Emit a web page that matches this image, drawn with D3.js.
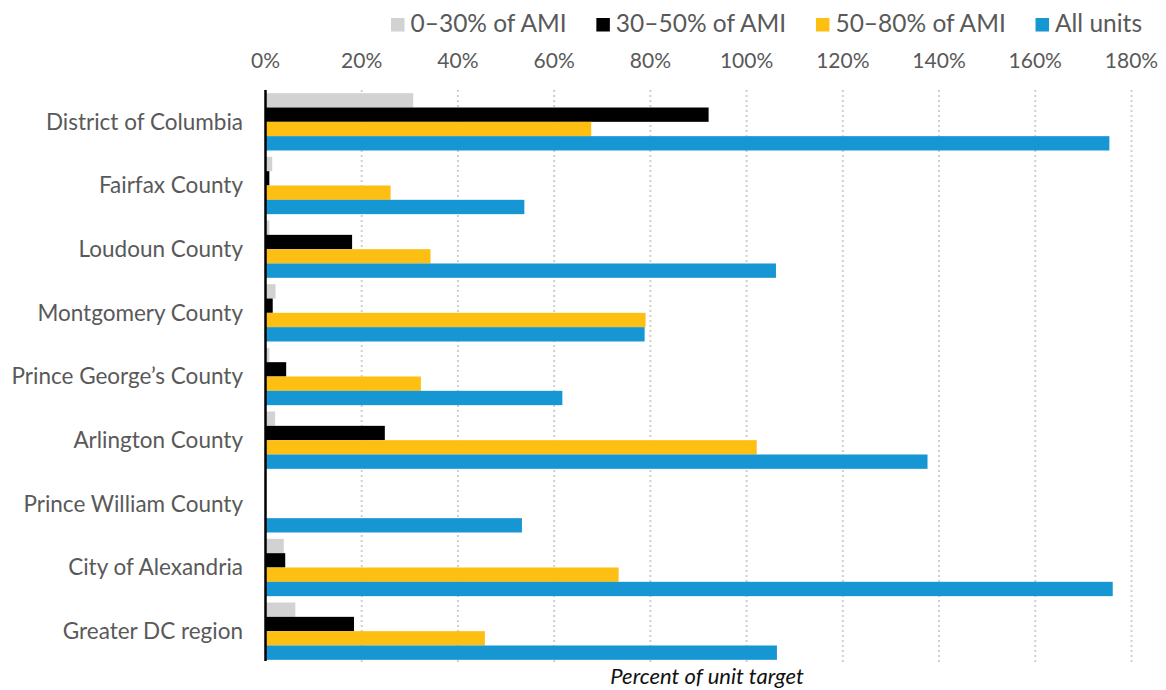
<!DOCTYPE html>
<html lang="en">
<head>
<meta charset="UTF-8">
<title>Percent of unit target</title>
<script src="https://d3js.org/d3.v7.min.js"></script>
<style>
    body { margin: 0; background: #fff; font-family: Lato, "Open Sans", sans-serif; }
    .tick-label { font-size: 21px; fill: #595959; }
    .cat-label { font-size: 22.5px; fill: #595959; }
    .legend-label { font-size: 24.5px; fill: #595959; }
    .axis-title { font-size: 22px; font-style: italic; fill: #111; }
</style>
</head>
<body>
<div id="chart"></div>
<script>
    const categories = ["District of Columbia", "Fairfax County", "Loudoun County", "Montgomery County",
        "Prince George\u2019s County", "Arlington County", "Prince William County", "City of Alexandria", "Greater DC region"];
    const seriesNames = ["0\u201330% of AMI", "30\u201350% of AMI", "50\u201380% of AMI", "All units"];
    const seriesColors = ["#d2d2d2", "#000000", "#fdbf11", "#1696d2"];

    // percent of unit target
    const ami0to30 = [30.7, 1.4, 0.8, 2.1, 0.8, 2.0, 0, 3.8, 6.2];
    const ami30to50 = [92.1, 0.8, 18.0, 1.5, 4.3, 24.8, 0, 4.1, 18.4];
    const ami50to80 = [67.7, 26.0, 34.3, 79.0, 32.3, 102.1, 0, 73.4, 45.6];
    const allUnits = [175.4, 53.8, 106.1, 78.8, 61.7, 137.6, 53.3, 176.1, 106.3];
    const tickValues = [0, 20, 40, 60, 80, 100, 120, 140, 160, 180];

    const seriesValues = [ami0to30, ami30to50, ami50to80, allUnits];

    const width = 1166, height = 690;
    const margin = { left: 265.5, right: 1131.5, top: 90, bottom: 663 };

    const svg = d3.select("#chart").append("svg")
        .attr("width", width)
        .attr("height", height);

    const x = d3.scaleLinear().domain([0, 180]).range([margin.left, margin.right]);
    const y = d3.scaleBand().domain(categories).range([margin.top, margin.bottom]).paddingInner(0.1).paddingOuter(0.05);
    const ySub = d3.scaleBand().domain(d3.range(seriesNames.length)).range([0, y.bandwidth()]);

    // dotted gridlines
    svg.append("g")
        .selectAll("line")
        .data(tickValues.slice(1))
        .enter().append("line")
        .attr("x1", d => x(d)).attr("x2", d => x(d))
        .attr("y1", margin.top).attr("y2", margin.bottom)
        .attr("stroke", "#cfcfcf")
        .attr("stroke-width", 2)
        .attr("stroke-dasharray", "2,3");

    // top axis labels
    svg.append("g")
        .selectAll("text")
        .data(tickValues)
        .enter().append("text")
        .attr("class", "tick-label")
        .attr("x", d => x(d))
        .attr("y", 67.5)
        .attr("text-anchor", "middle")
        .text(d => d + "%");

    // bars
    const groups = svg.append("g")
        .selectAll("g")
        .data(categories)
        .enter().append("g")
        .attr("transform", c => `translate(0,${y(c)})`);

    groups.selectAll("rect")
        .data((c, i) => seriesValues.map((vals, s) => ({ s: s, v: vals[i] })))
        .enter().append("rect")
        .attr("x", x(0))
        .attr("y", d => ySub(d.s))
        .attr("width", d => x(d.v) - x(0))
        .attr("height", ySub.bandwidth())
        .attr("fill", d => seriesColors[d.s]);

    // category labels
    svg.append("g")
        .selectAll("text")
        .data(categories)
        .enter().append("text")
        .attr("class", "cat-label")
        .attr("x", 243)
        .attr("y", c => y(c) + y.bandwidth() / 2)
        .attr("dy", "0.35em")
        .attr("text-anchor", "end")
        .text(c => c);

    // vertical axis line
    svg.append("line")
        .attr("x1", x(0)).attr("x2", x(0))
        .attr("y1", margin.top).attr("y2", margin.bottom - 2)
        .attr("stroke", "#000")
        .attr("stroke-width", 2.5);

    // axis title
    svg.append("text")
        .attr("class", "axis-title")
        .attr("x", 707)
        .attr("y", 684)
        .attr("text-anchor", "middle")
        .text("Percent of unit target");

    // legend: spread between 391 and 1142
    const legend = svg.append("g");
    const sq = 13.5, sqGap = 6;
    const items = seriesNames.map((name, i) => {
        const g = legend.append("g");
        g.append("rect")
            .attr("y", 18)
            .attr("width", sq).attr("height", sq)
            .attr("fill", seriesColors[i]);
        const t = g.append("text")
            .attr("class", "legend-label")
            .attr("x", sq + sqGap)
            .attr("y", 31.5)
            .text(name);
        return { g: g, w: sq + sqGap + t.node().getComputedTextLength() };
    });
    const legendStart = 391, legendEnd = 1142;
    const itemGap = (legendEnd - legendStart - d3.sum(items, d => d.w)) / (items.length - 1);
    let lx = legendStart;
    items.forEach(it => {
        it.g.attr("transform", `translate(${lx},0)`);
        lx += it.w + itemGap;
    });
</script>
</body>
</html>
